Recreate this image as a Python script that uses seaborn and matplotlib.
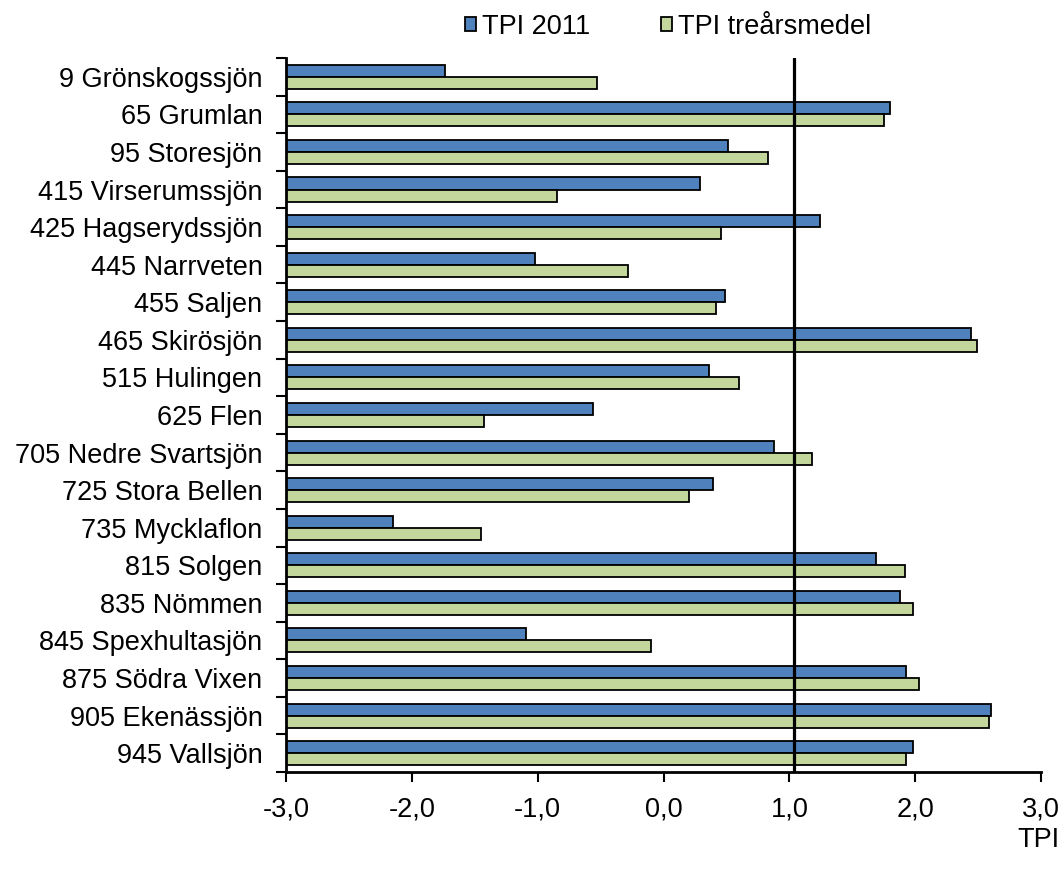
import numpy as np
import pandas as pd
import matplotlib
matplotlib.use("Agg")
import matplotlib.pyplot as plt
from matplotlib.ticker import FuncFormatter, FixedLocator
from matplotlib.patches import Patch
import seaborn as sns

# ------------------------------- data ----------------------------------
LAKES = [
    "9 Grönskogssjön", "65 Grumlan", "95 Storesjön", "415 Virserumssjön",
    "425 Hagserydssjön", "445 Narrveten", "455 Saljen", "465 Skirösjön",
    "515 Hulingen", "625 Flen", "705 Nedre Svartsjön", "725 Stora Bellen",
    "735 Mycklaflon", "815 Solgen", "835 Nömmen", "845 Spexhultasjön",
    "875 Södra Vixen", "905 Ekenässjön", "945 Vallsjön",
]
TPI_2011 = [-1.74, 1.80, 0.51, 0.29, 1.24, -1.02, 0.49, 2.44, 0.36, -0.56,
            0.88, 0.39, -2.15, 1.69, 1.88, -1.09, 1.93, 2.60, 1.98]
TPI_3YR = [-0.53, 1.75, 0.83, -0.85, 0.46, -0.28, 0.42, 2.49, 0.60, -1.43,
           1.18, 0.20, -1.45, 1.92, 1.98, -0.10, 2.03, 2.59, 1.93]
SERIES = ["TPI 2011", "TPI treårsmedel"]
REF_LINE = 1.04          # vertical reference line
X_MIN, X_MAX = -3.0, 3.0

# ------------------------------- style ---------------------------------
COLORS = ["#4F81BD", "#C3D69B"]
FS = 19.5

sns.set_theme(style="ticks")
plt.rcParams["font.family"] = ["Liberation Sans", "DejaVu Sans"]
plt.rcParams["text.color"] = "black"
plt.rcParams["xtick.labelcolor"] = "black"
plt.rcParams["ytick.labelcolor"] = "black"

df = pd.DataFrame({
    "sjo": LAKES * 2,
    "serie": [SERIES[0]] * len(LAKES) + [SERIES[1]] * len(LAKES),
    "TPI": TPI_2011 + TPI_3YR,
})

fig = plt.figure(figsize=(10.64, 8.72), dpi=100)
ax = fig.add_axes([0.2688, 0.1147, 0.7096, 0.8188])

sns.barplot(
    data=df, x="TPI", y="sjo", hue="serie", orient="h",
    palette=COLORS, saturation=1, edgecolor="black", linewidth=1.3,
    width=0.64, dodge=True, legend=False, ax=ax,
)

# Excel-style: bars grow from the left axis (-3), not from 0
for cont in ax.containers:
    for bar in cont:
        w = bar.get_width()
        bar.set_x(X_MIN)
        bar.set_width(w - X_MIN)

ax.axvline(REF_LINE, color="black", lw=2.3, zorder=5)

ax.set_xlim(X_MIN, X_MAX)
ax.set_ylim(len(LAKES) - 0.5, -0.5)
ax.set_xticks(np.arange(-3, 3.01, 1.0))
ax.xaxis.set_major_formatter(FuncFormatter(lambda v, _: f"{v:.1f}".replace(".", ",")))
ax.yaxis.set_minor_locator(FixedLocator(np.arange(-0.5, len(LAKES), 1.0)))
ax.tick_params(axis="y", which="major", length=0, pad=17, labelsize=FS)
ax.tick_params(axis="y", which="minor", length=7, width=1.5, color="black")
ax.tick_params(axis="x", which="major", length=7, width=1.5, color="black",
               labelsize=FS, pad=11)
ax.set_xlabel("")
ax.set_ylabel("")

for side in ["top", "right"]:
    ax.spines[side].set_visible(False)
for side in ["left", "bottom"]:
    ax.spines[side].set_linewidth(2)
    ax.spines[side].set_color("black")

fig.text(1038 / 1064, 1 - 840 / 872, "TPI", ha="center", va="center", fontsize=FS)

handles = [Patch(facecolor=c, edgecolor="black", linewidth=1.3) for c in COLORS]
fig.legend(handles, SERIES, loc="center", bbox_to_anchor=(668 / 1064, 1 - 27 / 872),
           ncol=2, frameon=False, fontsize=FS, handlelength=0.42, handleheight=0.42,
           handletextpad=0.22, columnspacing=2.6)

fig.savefig("out.png", dpi=100)
